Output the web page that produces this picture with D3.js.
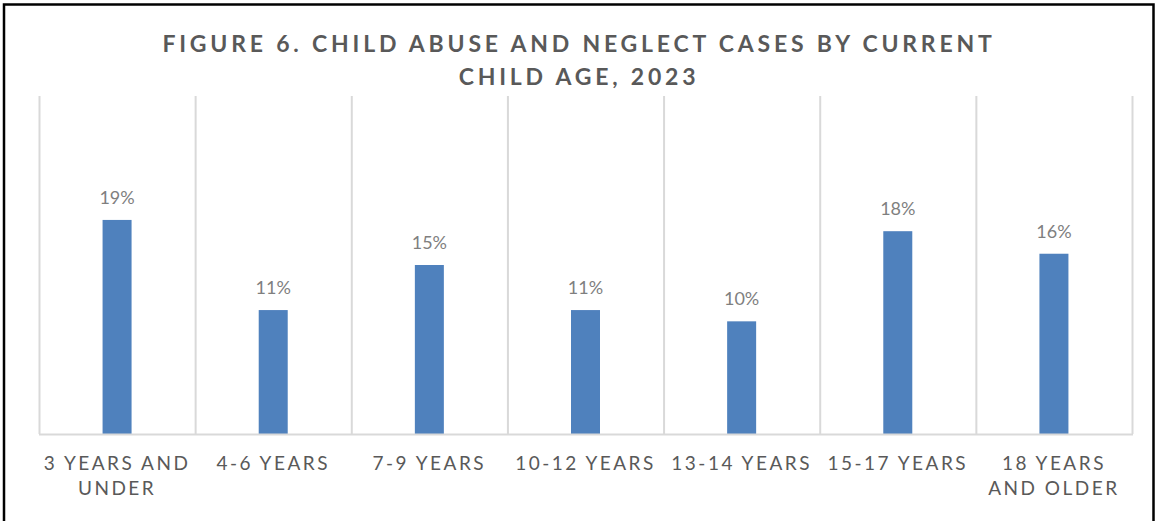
<!DOCTYPE html>
<html>
<head>
<meta charset="utf-8">
<script src="https://cdn.jsdelivr.net/npm/d3@7"></script>
<style>
  body { margin: 0; background: #fff; }
</style>
</head>
<body>
<div id="chart"></div>
<script>
// chart data
const categories = ["3 YEARS AND UNDER", "4-6 YEARS", "7-9 YEARS", "10-12 YEARS", "13-14 YEARS", "15-17 YEARS", "18 YEARS AND OLDER"];
const categoryLines = [["3 YEARS AND", "UNDER"], ["4-6 YEARS"], ["7-9 YEARS"], ["10-12 YEARS"], ["13-14 YEARS"], ["15-17 YEARS"], ["18 YEARS", "AND OLDER"]];
const shares = [0.19, 0.11, 0.15, 0.11, 0.10, 0.18, 0.16];
const titleLines = ["FIGURE 6. CHILD ABUSE AND NEGLECT CASES BY CURRENT", "CHILD AGE, 2023"];

const W = 1156, H = 521;
const margin = { top: 96, right: 24, bottom: 87, left: 39 };
const width = W - margin.left - margin.right,
  height = H - margin.top - margin.bottom;

const svg = d3
  .select("#chart")
  .append("svg")
  .attr("width", W)
  .attr("height", H);

// outer frame (no bottom edge visible in the picture)
svg.append("path")
  .attr("d", `M4,${H} L4,4.5 L1153.5,4.5 L1153.5,${H}`)
  .attr("fill", "none")
  .attr("stroke", "#000")
  .attr("stroke-width", 2.5);

const font = "Lato, 'Open Sans', sans-serif";

// title
svg.append("g")
  .selectAll("text")
  .data(titleLines)
  .join("text")
  .attr("x", 579)
  .attr("y", (d, i) => 52 + i * 33)
  .attr("text-anchor", "middle")
  .style("font-family", font)
  .style("font-weight", "bold")
  .style("font-size", "23px")
  .style("letter-spacing", "3.8px")
  .attr("fill", "#595959")
  .text((d) => d);

const g = svg.append("g").attr("transform", `translate(${margin.left},${margin.top})`);

const x = d3.scaleBand().domain(categories).range([0, width]).paddingInner(0).paddingOuter(0);
const y = d3.scaleLinear().domain([0, 0.30]).range([height, 0]);

// vertical gridlines between categories
const bounds = categories.map((c) => x(c)).concat([width]);
g.append("g")
  .selectAll("line")
  .data(bounds)
  .join("line")
  .attr("x1", (d) => d + 0.5)
  .attr("x2", (d) => d + 0.5)
  .attr("y1", 0)
  .attr("y2", height)
  .attr("stroke", "#d9d9d9")
  .attr("stroke-width", 2);

// bars
const barW = 29;
g.append("g")
  .selectAll("rect")
  .data(shares)
  .join("rect")
  .attr("x", (d, i) => x(categories[i]) + x.bandwidth() / 2 - barW / 2)
  .attr("y", (d) => y(d))
  .attr("width", barW)
  .attr("height", (d) => height - y(d))
  .attr("fill", "#4f81bd");

// data labels
g.append("g")
  .selectAll("text")
  .data(shares)
  .join("text")
  .attr("x", (d, i) => x(categories[i]) + x.bandwidth() / 2)
  .attr("y", (d) => y(d) - 16)
  .attr("text-anchor", "middle")
  .style("font-family", font)
  .style("font-size", "18px")
  .attr("fill", "#7f7f7f")
  .text((d) => d3.format(".0%")(d));

// baseline
g.append("line")
  .attr("x1", 0)
  .attr("x2", width + 1)
  .attr("y1", height + 0.5)
  .attr("y2", height + 0.5)
  .attr("stroke", "#d9d9d9")
  .attr("stroke-width", 2);

// category labels
const xAxis = g.append("g").attr("transform", `translate(0,${height})`);
categoryLines.forEach((lines, i) => {
  xAxis.append("text")
    .attr("x", x(categories[i]) + x.bandwidth() / 2)
    .attr("y", 36)
    .attr("text-anchor", "middle")
    .style("font-family", font)
    .style("font-size", "19px")
    .style("letter-spacing", "2.5px")
    .attr("fill", "#595959")
    .selectAll("tspan")
    .data(lines)
    .join("tspan")
    .attr("x", x(categories[i]) + x.bandwidth() / 2)
    .attr("dy", (d, j) => (j === 0 ? 0 : 25))
    .text((d) => d);
});
</script>
</body>
</html>
